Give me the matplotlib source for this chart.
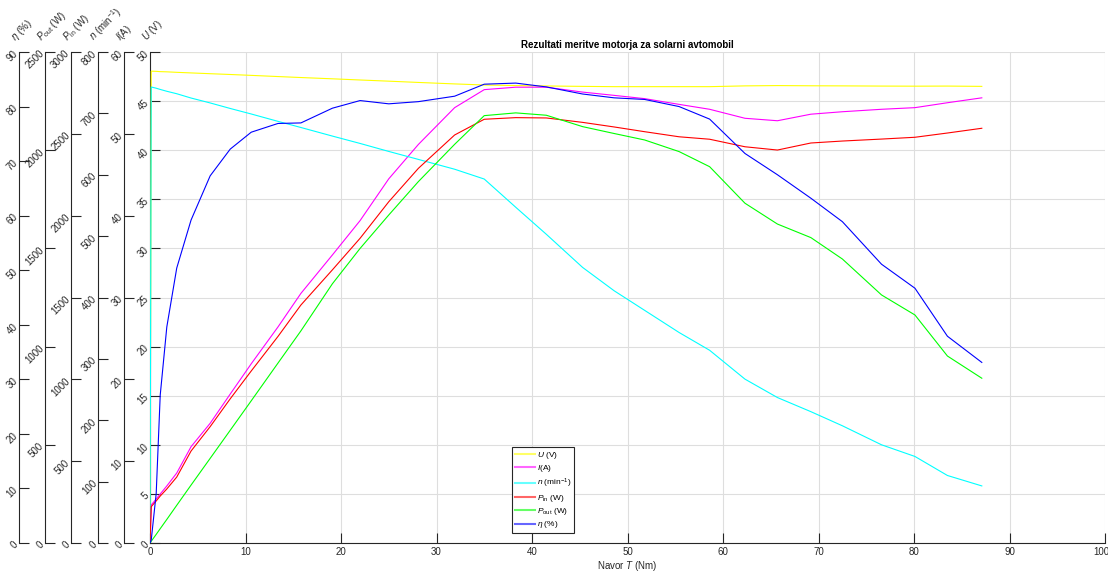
import matplotlib
matplotlib.use("Agg")
import matplotlib.pyplot as plt
from matplotlib.lines import Line2D
import matplotlib.transforms as mtransforms

plt.rcParams['font.family'] = ['Liberation Sans', 'DejaVu Sans']
plt.rcParams['mathtext.fontset'] = 'custom'
plt.rcParams['mathtext.rm'] = 'Liberation Sans'
plt.rcParams['mathtext.it'] = 'Liberation Sans:italic'

# ---------------- data ----------------
T = [0, 0.13, 0.65, 1.07, 1.76, 2.8, 4.3, 6.3, 8.4, 10.6, 13.4, 15.8, 19.1, 22.0, 25.0,
     28.1, 31.9, 35.0, 38.3, 41.5, 45.3, 48.6, 51.8, 55.4, 58.6, 62.3, 65.7, 69.2, 72.5,
     76.6, 80.1, 83.5, 87.1]
U = [0, 48.05, 48.03, 48.0, 47.98, 47.93, 47.87, 47.79, 47.71, 47.62, 47.5, 47.4, 47.27,
     47.15, 47.03, 46.9, 46.75, 46.64, 46.58, 46.54, 46.5, 46.47, 46.47, 46.47, 46.47,
     46.55, 46.58, 46.56, 46.55, 46.53, 46.52, 46.53, 46.5]
I = [0, 4.64, 5.38, 5.99, 6.97, 8.55, 11.77, 14.63, 18.2, 21.9, 26.4, 30.5, 35.2, 39.4,
     44.5, 48.7, 53.2, 55.4, 55.7, 55.7, 55.1, 54.7, 54.3, 53.6, 53.0, 51.9, 51.6, 52.4,
     52.7, 53.0, 53.2, 53.8, 54.4]
n = [0, 743, 741, 739, 736, 732, 725, 717, 708, 699, 687, 677, 663, 651, 638, 625, 609,
     593, 547, 503, 449, 411, 379, 343, 314, 267, 237, 214, 191, 160, 141, 110, 93]
P_in = [0, 222, 257, 287, 330, 403, 562, 711, 881, 1051, 1262, 1454, 1669, 1862, 2085,
        2289, 2493, 2589, 2599, 2597, 2570, 2542, 2513, 2482, 2467, 2421, 2401, 2444,
        2456, 2468, 2479, 2505, 2534]
P_out = [0, 9, 44, 73, 120, 192, 295, 431, 574, 724, 916, 1080, 1320, 1500, 1670, 1840,
         2030, 2176, 2190, 2178, 2120, 2085, 2052, 1993, 1916, 1730, 1624, 1555, 1446,
         1263, 1161, 952, 839]
eta = [0, 0.55, 9.1, 27.1, 39.6, 50.4, 59.2, 67.3, 72.2, 75.3, 76.9, 77.0, 79.7, 81.1,
       80.5, 80.9, 81.9, 84.1, 84.3, 83.6, 82.3, 81.6, 81.3, 80.0, 77.7, 71.4, 67.5, 63.2,
       58.9, 51.1, 46.7, 37.9, 33.1]

x_ticks = list(range(0, 101, 10))

# series: (values, color, label, ymax, tick step)
series = [
    (U, (1, 1, 0), r'$U$ (V)', 50, 5),
    (I, (1, 0, 1), r'$I$(A)', 60, 10),
    (n, (0, 1, 1), r'$n$ (min$^{-1}$)', 800, 100),
    (P_in, (1, 0, 0), r'$P_{\mathrm{in}}$ (W)', 3000, 500),
    (P_out, (0, 1, 0), r'$P_{\mathrm{out}}$ (W)', 2500, 500),
    (eta, (0, 0, 1), r'$\eta$ (%)', 90, 10),
]

W, H = 1108, 571
fig = plt.figure(figsize=(W / 100, H / 100), dpi=100)
left_px, right_px, top_px, bot_px = 150, 1105, 52, 543
ax = fig.add_axes([left_px / W, 1 - bot_px / H, (right_px - left_px) / W,
                   (bot_px - top_px) / H])

dark = '#262626'
spine_px = [150, 124, 98, 71, 45, 19]

axes = [ax]
for k in range(1, len(series)):
    axes.append(ax.twinx())

handles = []
for k, (vals, col, lab, ymax, step) in enumerate(series):
    a = axes[k]
    line, = a.plot(T, vals, color=col, lw=0.8, label=lab, zorder=3)
    handles.append(line)
    a.set_ylim(0, ymax)
    a.set_yticks(list(range(0, ymax + 1, step)))
    for s in a.spines.values():
        s.set_visible(False)
    a.spines['left'].set_visible(True)
    a.spines['left'].set_color(dark)
    a.spines['left'].set_linewidth(0.8)
    if k > 0:
        a.yaxis.set_ticks_position('left')
        a.spines['left'].set_position(('outward', (150 - spine_px[k]) * 0.72))
    a.tick_params(axis='y', direction='in', length=7, width=0.8, color=dark,
                  labelsize=7, labelcolor=dark, pad=2)
    for t in a.get_yticklabels():
        t.set_rotation(45)
        t.set_rotation_mode('anchor')
        t.set_ha('right')
        t.set_va('center')
    # axis label at top
    fig.text((spine_px[k] - 1) / W, 1 - 44 / H, lab, rotation=45,
             rotation_mode='anchor', ha='left', va='bottom', fontsize=7, color=dark)

ax.spines['bottom'].set_visible(True)
ax.spines['bottom'].set_color(dark)
ax.spines['bottom'].set_linewidth(0.8)
ax.set_xlim(0, 100)
ax.set_xticks(x_ticks)
ax.tick_params(axis='x', direction='in', length=7, width=0.8, color=dark,
               labelsize=7, labelcolor=dark, pad=3)
# keep the last tick label inside the figure
last = ax.get_xticklabels()[-1]
last.set_transform(last.get_transform() +
                   mtransforms.ScaledTranslation(-4 / 100, 0, fig.dpi_scale_trans))
ax.grid(True, color='#dedede', lw=0.8)
ax.set_axisbelow(True)
ax.set_xlabel(r'Navor $T$ (Nm)', fontsize=7, color=dark, labelpad=1)
ax.set_title('Rezultati meritve motorja za solarni avtomobil', fontsize=7,
             fontweight='bold', color='black', pad=3)

leg_handles = [Line2D([0], [0], color=h.get_color(), lw=1.5, alpha=0.6) for h in handles]
leg = axes[-1].legend(leg_handles, [s[2] for s in series], loc='lower left',
                      bbox_to_anchor=((512 - 150) / 955, (543 - 533) / 491),
                      fontsize=6, frameon=True, fancybox=False, edgecolor=dark,
                      framealpha=1, handlelength=2.4, handletextpad=0.3,
                      borderpad=0.3, labelspacing=0.3, borderaxespad=0)
leg.get_frame().set_linewidth(0.8)
leg.set_zorder(10)

fig.savefig('out.png', dpi=100)
